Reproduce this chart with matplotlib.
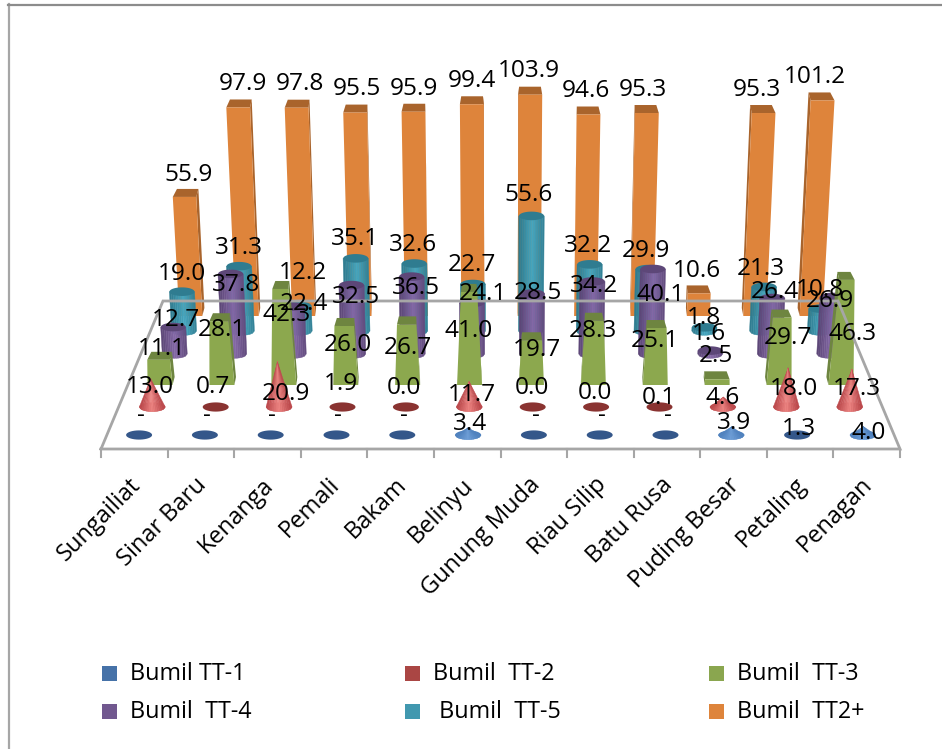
import numpy as np
import matplotlib
matplotlib.use('Agg')
import matplotlib.pyplot as plt
from matplotlib.patches import Polygon, Rectangle

plt.rcParams['font.family'] = ['Open Sans', 'DejaVu Sans']

# data, front row to back row
categories = ['Sungailiat', 'Sinar Baru', 'Kenanga', 'Pemali', 'Bakam', 'Belinyu',
              'Gunung Muda', 'Riau Silip', 'Batu Rusa', 'Puding Besar', 'Petaling', 'Penagan']
tt1 = [0, 0, 0, 0, 0, 3.4, 0, 0, 0, 3.9, 1.3, 4.0]
tt2 = [13.0, 0.7, 20.9, 1.9, 0.0, 11.7, 0.0, 0.0, 0.1, 4.6, 18.0, 17.3]
tt3 = [11.1, 28.1, 42.3, 26.0, 26.7, 41.0, 19.7, 28.3, 25.1, 2.5, 29.7, 46.3]
tt4 = [12.7, 37.8, 22.4, 32.5, 36.5, 24.1, 28.5, 34.2, 40.1, 1.6, 26.4, 26.9]
tt5 = [19.0, 31.3, 12.2, 35.1, 32.6, 22.7, 55.6, 32.2, 29.9, 1.8, 21.3, 10.8]
tt2plus = [55.9, 97.9, 97.8, 95.5, 95.9, 99.4, 103.9, 94.6, 95.3, 10.6, 95.3, 101.2]

legend_names = ['Bumil TT-1', 'Bumil  TT-2', 'Bumil  TT-3', 'Bumil  TT-4', ' Bumil  TT-5', 'Bumil  TT2+']
legend_colors = ['#4672A8', '#AA4644', '#8AA64F', '#71588F', '#4198AF', '#DE843B']

# label centres as placed in the picture (pixels)
lab_tt1 = [(141, 414), (207, 414), (272, 414), (338, 414), (404, 414), (470, 422),
           (536, 414), (602, 414), (668, 414), (734, 421), (799, 427), (869, 431)]
lab_tt2 = [(150, 385), (213, 385), (286, 392), (341, 382), (404, 386), (472, 393),
           (532, 386), (595, 391), (659, 396), (723, 396), (794, 387), (857, 387)]
lab_tt3 = [(162, 347), (222, 328), (287, 313), (348, 343), (408, 346), (469, 329),
           (537, 348), (593, 329), (655, 339), (716, 354), (788, 336), (853, 332)]
lab_tt4 = [(176, 318), (236, 283), (304, 302), (356, 295), (416, 286), (483, 292),
           (538, 291), (594, 284), (661, 293), (709, 332), (775, 290), (830, 299)]
lab_tt5 = [(182, 272), (239, 246), (303, 271), (355, 237), (413, 243), (472, 263),
           (529, 193), (588, 244), (646, 249), (704, 316), (761, 267), (820, 288)]
lab_tt2plus = [(189, 173), (243, 82), (300, 82), (357, 87), (414, 87), (472, 79),
               (529, 69), (586, 89), (643, 88), (697, 269), (757, 88), (815, 75)]

# per row layout: base y, centre x, px per category, px per unit, shape
rows = [
    dict(vals=tt1, labs=lab_tt1, kind='cone', y=435, cx=501, s=65.8, k=2.1, w=13, main='#4F81BD', dark='#34578A', light='#6F9FD8'),
    dict(vals=tt2, labs=lab_tt2, kind='cone', y=407, cx=501, s=63.4, k=2.17, w=13, main='#B9474A', dark='#8A3331', light='#EE8583'),
    dict(vals=tt3, labs=lab_tt3, kind='box', y=385, cx=500.5, s=61.9, k=2.27, w=12.5, taper=0.048, main='#8CA84E', dark='#6E8540', light='#8CA84E'),
    dict(vals=tt4, labs=lab_tt4, kind='cyl', y=354, cx=502, s=59.5, k=2.12, w=12.5, main='#7A5F9B', dark='#5D4778', light='#8468A6'),
    dict(vals=tt5, labs=lab_tt5, kind='cyl', y=331, cx=502, s=57.8, k=2.07, w=12.5, main='#4198AF', dark='#2F7C90', light='#46A6BF'),
    dict(vals=tt2plus, labs=lab_tt2plus, kind='box', y=316, cx=501, s=56.4, k=2.13, w=11.5, taper=0, main='#DE843B', dark='#A9642C', light='#DE843B'),
]
CX = 500.5
LEAN = 0.00017
DEPTH = 8
DS = 0.07


def pt(x0, y0, hpx):
    # vertical edges splay outwards with height
    return x0 + (x0 - CX) * LEAN * hpx, y0 - hpx


def ellipse(cx, cy, a, b, t0=0, t1=2 * np.pi, n=40):
    t = np.linspace(t0, t1, n)
    return np.column_stack([cx + a * np.cos(t), cy + b * np.sin(t)])


def mix(c1, c2, f):
    a = np.array(matplotlib.colors.to_rgb(c1))
    b = np.array(matplotlib.colors.to_rgb(c2))
    return tuple(a + (b - a) * f)


def draw_box(ax, i, row, v):
    X = i - 5.5
    hpx = v * row['k']
    y0 = row['y']
    s_back = row['s'] - DS * DEPTH
    w = row['w']
    w_top = w - row['taper'] * hpx
    fx = row['cx'] + X * row['s']
    bx = row['cx'] + X * s_back
    yb = y0 - DEPTH
    # green bars narrow towards the top
    ftl, ftr = pt(fx - w_top, y0, hpx), pt(fx + w_top, y0, hpx)
    btl, btr = pt(bx - w_top + 1, yb, hpx), pt(bx + w_top - 1, yb, hpx)
    fbl, fbr = (fx - w, y0), (fx + w, y0)
    bbl, bbr = (bx - w + 1, yb), (bx + w - 1, yb)
    # outer side
    if X < 0:
        side = [fbr, ftr, btr, bbr]
    else:
        side = [fbl, ftl, btl, bbl]
    ax.add_patch(Polygon(side, fc=row['dark'], ec='none'))
    ax.add_patch(Polygon([ftl, ftr, btr, btl], fc=row['dark'], ec='none'))
    ax.add_patch(Polygon([fbl, fbr, ftr, ftl], fc=row['main'], ec='none'))


def draw_cyl(ax, i, row, v):
    X = i - 5.5
    hpx = v * row['k']
    x0 = row['cx'] + X * row['s']
    y0 = row['y']
    a, b = row['w'], 4.3
    n = 14
    edges = np.linspace(-a, a, n + 1)
    for j in range(n):
        f = 1 - abs((j + .5) / n * 2 - 1.1)
        col = mix(row['dark'], row['light'], max(f, 0))
        e0, e1 = edges[j], edges[j + 1]
        b0 = b * np.sqrt(max(1 - (e0 / a) ** 2, 0))
        b1 = b * np.sqrt(max(1 - (e1 / a) ** 2, 0))
        strip = [pt(x0 + e0, y0 + b0, 0), pt(x0 + e1, y0 + b1, 0),
                 pt(x0 + e1, y0, hpx), pt(x0 + e0, y0, hpx)]
        ax.add_patch(Polygon(strip, fc=col, ec=col, lw=.3))
    tx, ty = pt(x0, y0, hpx)
    ax.add_patch(Polygon(ellipse(tx, ty, a, b), fc=row['dark'], ec='none'))


def draw_cone(ax, i, row, v):
    X = i - 5.5
    hpx = v * row['k']
    x0 = row['cx'] + X * row['s']
    y0 = row['y']
    a, b = row['w'], 4.6
    # very low cones read as the flat dark base
    if hpx < b:
        ax.add_patch(Polygon(ellipse(x0, y0, a, b), fc=row['dark'], ec='none'))
        return
    ax.add_patch(Polygon(ellipse(x0, y0, a, b), fc=row['main'], ec='none'))
    tip = pt(x0, y0, hpx)
    n = 14
    edges = np.linspace(-a, a, n + 1)
    for j in range(n):
        f = 1 - abs((j + .5) / n * 2 - 1)
        col = mix(row['main'], row['light'], f)
        e0, e1 = edges[j], edges[j + 1]
        b0 = b * np.sqrt(max(1 - (e0 / a) ** 2, 0))
        b1 = b * np.sqrt(max(1 - (e1 / a) ** 2, 0))
        ax.add_patch(Polygon([(x0 + e0, y0 + b0), (x0 + e1, y0 + b1), tip], fc=col, ec=col, lw=.3))


fig = plt.figure(figsize=(9.42, 7.49), dpi=100)
ax = fig.add_axes([0, 0, 1, 1])
ax.set_xlim(0, 942)
ax.set_ylim(749, 0)
ax.axis('off')

# chart frame
ax.plot([9, 9], [749, 4], color='#A6A6A6', lw=1.6)
ax.plot([8, 942], [4.5, 4.5], color='#8C8C8C', lw=1.6)

# floor
grey = '#A6A6A6'
ax.plot([101, 163, 838, 900, 101], [449, 301, 301, 449, 449], color=grey, lw=2, solid_joinstyle='miter')
tick_x = np.linspace(101, 900, 13)
for xt in tick_x:
    ax.plot([xt, xt], [449, 457], color=grey, lw=1.5)

# back to front
for row in rows[::-1]:
    order = sorted(range(12), key=lambda c: -abs(c - 5.5))
    for i in order:
        v = row['vals'][i]
        if row['kind'] == 'box':
            draw_box(ax, i, row, v)
        elif row['kind'] == 'cyl':
            draw_cyl(ax, i, row, v)
        else:
            draw_cone(ax, i, row, v)

# value labels sit over every mark, open sans centres a little high
for row in rows:
    for i, v in enumerate(row['vals']):
        txt = '-' if row is rows[0] and v == 0 else '%.1f' % v
        lx, ly = row['labs'][i]
        ax.text(lx, ly + 2, txt, ha='center', va='center', fontsize=17.6, color='black')

# category labels
for i, name in enumerate(categories):
    xc = (tick_x[i] + tick_x[i + 1]) / 2
    ax.text(xc - 6, 473, name, rotation=45, rotation_mode='anchor', ha='right', va='top',
            fontsize=17, color='black')

# legend
leg_x = [102, 405, 709]
leg_y = [673, 711]
for n, name in enumerate(legend_names):
    lx = leg_x[n % 3]
    ly = leg_y[n // 3]
    ax.add_patch(Rectangle((lx, ly - 7.5), 15, 15, fc=legend_colors[n], ec='none'))
    ax.text(lx + 28, ly + 1.5, name, ha='left', va='center', fontsize=16.8, color='black')

fig.savefig('out.png', dpi=100)
